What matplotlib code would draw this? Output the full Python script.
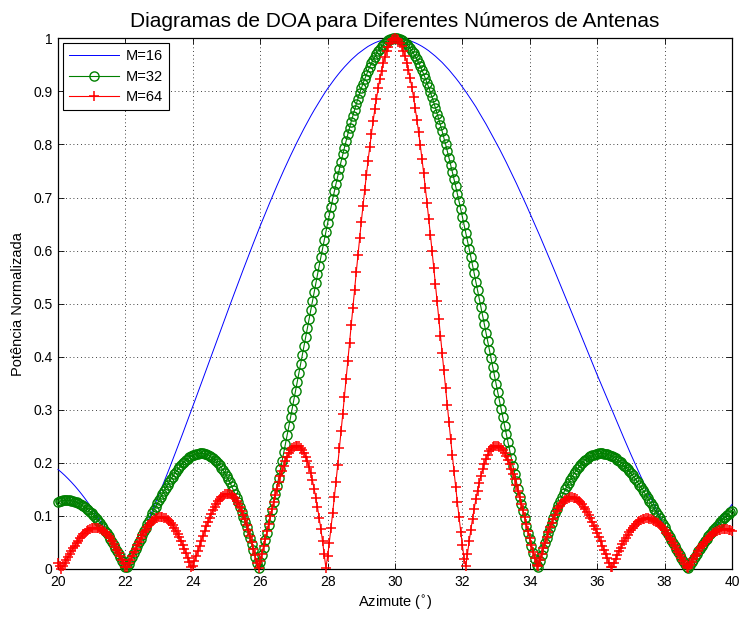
import numpy as np
import matplotlib
matplotlib.use("Agg")
import matplotlib.pyplot as plt

plt.rcParams['font.family'] = ['Liberation Sans', 'DejaVu Sans']

# Azimuth grids (degrees)
theta16 = np.linspace(20, 40, 201)   # 0.1 deg step
theta_f = np.linspace(20, 40, 401)   # 0.05 deg step

series_labels = ['M=16', 'M=32', 'M=64']

m16 = [
    0.1876, 0.1822, 0.1764, 0.1701, 0.1635, 0.1565, 0.1490, 0.1411, 0.1328, 0.1240,
    0.1150, 0.1055, 0.0956, 0.0854, 0.0747, 0.0637, 0.0524, 0.0405, 0.0285, 0.0159,
    0.0031, 0.0099, 0.0233, 0.0371, 0.0510, 0.0653, 0.0799, 0.0948, 0.1100, 0.1253,
    0.1409, 0.1567, 0.1726, 0.1888, 0.2051, 0.2218, 0.2384, 0.2552, 0.2722, 0.2893,
    0.3065, 0.3237, 0.3408, 0.3582, 0.3756, 0.3930, 0.4104, 0.4277, 0.4451, 0.4625,
    0.4798, 0.4970, 0.5141, 0.5311, 0.5479, 0.5648, 0.5814, 0.5979, 0.6143, 0.6305,
    0.6465, 0.6621, 0.6776, 0.6928, 0.7079, 0.7227, 0.7371, 0.7514, 0.7653, 0.7789,
    0.7922, 0.8052, 0.8178, 0.8300, 0.8418, 0.8534, 0.8645, 0.8751, 0.8854, 0.8956,
    0.9052, 0.9141, 0.9227, 0.9309, 0.9387, 0.9460, 0.9528, 0.9594, 0.9651, 0.9709,
    0.9757, 0.9803, 0.9847, 0.9882, 0.9914, 0.9940, 0.9961, 0.9978, 0.9990, 0.9998,
    1.0000, 0.9998, 0.9990, 0.9979, 0.9962, 0.9941, 0.9915, 0.9884, 0.9849, 0.9809,
    0.9765, 0.9713, 0.9662, 0.9604, 0.9544, 0.9476, 0.9407, 0.9331, 0.9253, 0.9171,
    0.9084, 0.8995, 0.8901, 0.8805, 0.8708, 0.8598, 0.8493, 0.8384, 0.8268, 0.8150,
    0.8036, 0.7916, 0.7791, 0.7665, 0.7534, 0.7402, 0.7269, 0.7131, 0.6993, 0.6852,
    0.6708, 0.6565, 0.6420, 0.6274, 0.6125, 0.5975, 0.5826, 0.5673, 0.5519, 0.5366,
    0.5211, 0.5058, 0.4904, 0.4748, 0.4593, 0.4437, 0.4281, 0.4125, 0.3971, 0.3814,
    0.3658, 0.3507, 0.3353, 0.3201, 0.3050, 0.2899, 0.2749, 0.2600, 0.2453, 0.2305,
    0.2159, 0.2017, 0.1875, 0.1736, 0.1598, 0.1461, 0.1327, 0.1193, 0.1062, 0.0932,
    0.0804, 0.0681, 0.0559, 0.0439, 0.0322, 0.0206, 0.0092, 0.0018, 0.0127, 0.0232,
    0.0336, 0.0435, 0.0532, 0.0627, 0.0719, 0.0809, 0.0895, 0.0979, 0.1060, 0.1139,
    0.1215,
]

m32 = [
    0.1267, 0.1278, 0.1285, 0.1291, 0.1295, 0.1296, 0.1295, 0.1293, 0.1287, 0.1280, 0.1270, 0.1259, 0.1245, 0.1228, 0.1210, 0.1189, 0.1166, 0.1140, 0.1113, 0.1083,
    0.1051, 0.1017, 0.0981, 0.0943, 0.0903, 0.0861, 0.0817, 0.0771, 0.0723, 0.0674, 0.0623, 0.0570, 0.0516, 0.0460, 0.0402, 0.0343, 0.0283, 0.0222, 0.0159, 0.0096,
    0.0031, 0.0034, 0.0099, 0.0165, 0.0232, 0.0300, 0.0368, 0.0436, 0.0505, 0.0573, 0.0641, 0.0710, 0.0778, 0.0845, 0.0912, 0.0979, 0.1046, 0.1111, 0.1175, 0.1238,
    0.1300, 0.1361, 0.1420, 0.1478, 0.1534, 0.1589, 0.1642, 0.1693, 0.1742, 0.1789, 0.1834, 0.1877, 0.1917, 0.1954, 0.1989, 0.2022, 0.2051, 0.2078, 0.2102, 0.2122,
    0.2140, 0.2155, 0.2166, 0.2174, 0.2178, 0.2180, 0.2177, 0.2171, 0.2162, 0.2149, 0.2132, 0.2111, 0.2087, 0.2059, 0.2027, 0.1991, 0.1951, 0.1908, 0.1860, 0.1808,
    0.1753, 0.1694, 0.1630, 0.1564, 0.1494, 0.1419, 0.1340, 0.1258, 0.1172, 0.1082, 0.0989, 0.0892, 0.0791, 0.0686, 0.0578, 0.0467, 0.0352, 0.0233, 0.0111, 0.0014,
    0.0141, 0.0271, 0.0404, 0.0540, 0.0678, 0.0820, 0.0965, 0.1111, 0.1260, 0.1411, 0.1564, 0.1719, 0.1876, 0.2035, 0.2196, 0.2359, 0.2524, 0.2688, 0.2855, 0.3022,
    0.3191, 0.3358, 0.3526, 0.3695, 0.3865, 0.4034, 0.4203, 0.4373, 0.4543, 0.4712, 0.4881, 0.5050, 0.5217, 0.5384, 0.5550, 0.5714, 0.5876, 0.6038, 0.6199, 0.6357,
    0.6514, 0.6668, 0.6819, 0.6968, 0.7116, 0.7260, 0.7402, 0.7541, 0.7678, 0.7812, 0.7941, 0.8068, 0.8192, 0.8313, 0.8431, 0.8543, 0.8656, 0.8761, 0.8862, 0.8963,
    0.9057, 0.9148, 0.9230, 0.9312, 0.9390, 0.9462, 0.9532, 0.9597, 0.9655, 0.9709, 0.9759, 0.9804, 0.9846, 0.9881, 0.9913, 0.9939, 0.9961, 0.9978, 0.9990, 0.9998,
    1.0000, 0.9998, 0.9991, 0.9979, 0.9962, 0.9940, 0.9915, 0.9884, 0.9848, 0.9808, 0.9765, 0.9714, 0.9661, 0.9602, 0.9541, 0.9473, 0.9401, 0.9326, 0.9246, 0.9163,
    0.9076, 0.8984, 0.8890, 0.8790, 0.8688, 0.8583, 0.8472, 0.8360, 0.8245, 0.8127, 0.8005, 0.7880, 0.7750, 0.7620, 0.7485, 0.7351, 0.7212, 0.7072, 0.6928, 0.6783,
    0.6635, 0.6488, 0.6338, 0.6188, 0.6034, 0.5881, 0.5724, 0.5569, 0.5411, 0.5253, 0.5093, 0.4935, 0.4774, 0.4614, 0.4452, 0.4293, 0.4128, 0.3970, 0.3806, 0.3647,
    0.3484, 0.3328, 0.3167, 0.3014, 0.2857, 0.2703, 0.2546, 0.2396, 0.2243, 0.2094, 0.1943, 0.1798, 0.1651, 0.1508, 0.1364, 0.1226, 0.1087, 0.0952, 0.0817, 0.0686,
    0.0557, 0.0431, 0.0308, 0.0188, 0.0069, 0.0046, 0.0159, 0.0269, 0.0377, 0.0482, 0.0583, 0.0681, 0.0776, 0.0870, 0.0959, 0.1046, 0.1129, 0.1210, 0.1288, 0.1361,
    0.1432, 0.1499, 0.1563, 0.1623, 0.1680, 0.1734, 0.1785, 0.1833, 0.1878, 0.1920, 0.1958, 0.1993, 0.2026, 0.2054, 0.2080, 0.2103, 0.2123, 0.2139, 0.2154, 0.2164,
    0.2172, 0.2177, 0.2179, 0.2179, 0.2175, 0.2170, 0.2162, 0.2151, 0.2137, 0.2121, 0.2103, 0.2083, 0.2060, 0.2035, 0.2008, 0.1979, 0.1947, 0.1914, 0.1879, 0.1842,
    0.1803, 0.1763, 0.1722, 0.1678, 0.1634, 0.1588, 0.1541, 0.1493, 0.1443, 0.1393, 0.1340, 0.1288, 0.1235, 0.1180, 0.1125, 0.1069, 0.1013, 0.0956, 0.0898, 0.0841,
    0.0782, 0.0725, 0.0667, 0.0609, 0.0551, 0.0493, 0.0435, 0.0378, 0.0320, 0.0263, 0.0205, 0.0149, 0.0092, 0.0037, 0.0018, 0.0072, 0.0126, 0.0179, 0.0231, 0.0283,
    0.0334, 0.0383, 0.0431, 0.0478, 0.0524, 0.0569, 0.0613, 0.0656, 0.0697, 0.0738, 0.0778, 0.0815, 0.0852, 0.0887, 0.0921, 0.0954, 0.0985, 0.1015, 0.1043, 0.1070,
    0.1095,
]

m64 = [
    0.0120, 0.0063, 0.0007, 0.0051, 0.0109, 0.0167, 0.0225, 0.0281, 0.0336, 0.0389, 0.0441, 0.0491, 0.0536, 0.0579, 0.0619, 0.0654, 0.0686, 0.0714, 0.0737, 0.0754,
    0.0768, 0.0776, 0.0779, 0.0777, 0.0770, 0.0758, 0.0739, 0.0716, 0.0688, 0.0655, 0.0618, 0.0576, 0.0529, 0.0477, 0.0423, 0.0365, 0.0304, 0.0239, 0.0172, 0.0105,
    0.0034, 0.0036, 0.0106, 0.0177, 0.0246, 0.0316, 0.0384, 0.0450, 0.0515, 0.0577, 0.0636, 0.0691, 0.0743, 0.0791, 0.0834, 0.0872, 0.0905, 0.0932, 0.0953, 0.0969,
    0.0979, 0.0982, 0.0979, 0.0969, 0.0953, 0.0931, 0.0901, 0.0867, 0.0825, 0.0777, 0.0723, 0.0664, 0.0600, 0.0531, 0.0458, 0.0380, 0.0299, 0.0213, 0.0125, 0.0035,
    0.0058, 0.0153, 0.0249, 0.0344, 0.0440, 0.0534, 0.0625, 0.0715, 0.0802, 0.0886, 0.0965, 0.1038, 0.1109, 0.1172, 0.1229, 0.1278, 0.1321, 0.1356, 0.1384, 0.1404,
    0.1414, 0.1415, 0.1408, 0.1392, 0.1365, 0.1331, 0.1287, 0.1233, 0.1172, 0.1100, 0.1021, 0.0933, 0.0838, 0.0735, 0.0624, 0.0507, 0.0384, 0.0255, 0.0122, 0.0015,
    0.0151, 0.0289, 0.0429, 0.0570, 0.0712, 0.0853, 0.0993, 0.1129, 0.1263, 0.1392, 0.1516, 0.1636, 0.1747, 0.1852, 0.1948, 0.2035, 0.2113, 0.2179, 0.2234, 0.2277,
    0.2307, 0.2323, 0.2325, 0.2313, 0.2288, 0.2247, 0.2190, 0.2118, 0.2030, 0.1925, 0.1805, 0.1668, 0.1515, 0.1347, 0.1163, 0.0964, 0.0750, 0.0521, 0.0276, 0.0019,
    0.0236, 0.0497, 0.0770, 0.1054, 0.1348, 0.1648, 0.1956, 0.2273, 0.2595, 0.2922, 0.3250, 0.3584, 0.3918, 0.4255, 0.4593, 0.4927, 0.5257, 0.5588, 0.5913, 0.6232,
    0.6542, 0.6844, 0.7136, 0.7420, 0.7692, 0.7954, 0.8202, 0.8438, 0.8661, 0.8865, 0.9057, 0.9232, 0.9389, 0.9530, 0.9654, 0.9758, 0.9845, 0.9913, 0.9961, 0.9990,
    1.0000, 0.9991, 0.9962, 0.9915, 0.9848, 0.9763, 0.9661, 0.9540, 0.9402, 0.9246, 0.9076, 0.8890, 0.8681, 0.8467, 0.8234, 0.7991, 0.7734, 0.7465, 0.7186, 0.6898,
    0.6603, 0.6301, 0.5993, 0.5679, 0.5361, 0.5041, 0.4719, 0.4393, 0.4067, 0.3741, 0.3415, 0.3093, 0.2774, 0.2458, 0.2148, 0.1846, 0.1550, 0.1260, 0.0979, 0.0706,
    0.0443, 0.0194, 0.0048, 0.0291, 0.0522, 0.0742, 0.0948, 0.1138, 0.1315, 0.1479, 0.1626, 0.1761, 0.1880, 0.1986, 0.2076, 0.2154, 0.2215, 0.2264, 0.2296, 0.2319,
    0.2324, 0.2321, 0.2302, 0.2275, 0.2233, 0.2184, 0.2122, 0.2053, 0.1974, 0.1889, 0.1792, 0.1693, 0.1585, 0.1472, 0.1352, 0.1233, 0.1106, 0.0980, 0.0849, 0.0719,
    0.0587, 0.0458, 0.0328, 0.0200, 0.0074, 0.0048, 0.0167, 0.0281, 0.0393, 0.0499, 0.0601, 0.0696, 0.0786, 0.0872, 0.0950, 0.1022, 0.1087, 0.1145, 0.1196, 0.1240,
    0.1277, 0.1306, 0.1327, 0.1342, 0.1350, 0.1350, 0.1344, 0.1331, 0.1313, 0.1286, 0.1255, 0.1218, 0.1175, 0.1127, 0.1073, 0.1015, 0.0954, 0.0888, 0.0819, 0.0748,
    0.0673, 0.0597, 0.0521, 0.0441, 0.0360, 0.0279, 0.0200, 0.0119, 0.0039, 0.0040, 0.0116, 0.0191, 0.0264, 0.0335, 0.0402, 0.0468, 0.0529, 0.0588, 0.0643, 0.0694,
    0.0739, 0.0781, 0.0818, 0.0852, 0.0881, 0.0905, 0.0924, 0.0938, 0.0948, 0.0954, 0.0954, 0.0950, 0.0941, 0.0929, 0.0911, 0.0890, 0.0864, 0.0835, 0.0802, 0.0765,
    0.0726, 0.0683, 0.0639, 0.0592, 0.0542, 0.0490, 0.0437, 0.0383, 0.0327, 0.0269, 0.0212, 0.0154, 0.0096, 0.0038, 0.0019, 0.0076, 0.0132, 0.0187, 0.0240, 0.0292,
    0.0342, 0.0390, 0.0434, 0.0477, 0.0517, 0.0553, 0.0588, 0.0618, 0.0647, 0.0672, 0.0693, 0.0712, 0.0726, 0.0737, 0.0746, 0.0750, 0.0751, 0.0748, 0.0742, 0.0733,
    0.0720,
]

x_ticks = [20, 22, 24, 26, 28, 30, 32, 34, 36, 38, 40]
y_ticks = [0, 0.1, 0.2, 0.3, 0.4, 0.5, 0.6, 0.7, 0.8, 0.9, 1]
y_tick_labels = ['0', '0.1', '0.2', '0.3', '0.4', '0.5', '0.6', '0.7', '0.8', '0.9', '1']

fig = plt.figure(figsize=(7.4, 6.17), dpi=100)
ax = fig.add_axes([58 / 740, 1 - 569 / 617, (732 - 58) / 740, (569 - 38.3) / 617])

ax.plot(theta16, m16, color=(0, 0, 1), lw=0.7, label=series_labels[0], clip_on=False, zorder=3)
ax.plot(theta_f, m32, color=(0, 0.5, 0), lw=0.8, marker='o', ms=6.6, mfc='none',
        mew=1.0, label=series_labels[1], clip_on=False, zorder=4)
ax.plot(theta_f, m64, color=(1, 0, 0), lw=0.8, marker='+', ms=7.5, mew=1.1,
        label=series_labels[2], clip_on=False, zorder=5)

ax.set_xlim(20, 40)
ax.set_ylim(0, 1)
ax.set_xticks(x_ticks)
ax.set_yticks(y_ticks)
ax.set_yticklabels(y_tick_labels)
ax.tick_params(direction='in', top=True, right=True, length=4, width=0.6,
               labelsize=10, pad=4)
ax.grid(True, linestyle=(0, (1, 3.5)), color='black', lw=0.6)
for sp in ax.spines.values():
    sp.set_linewidth(0.9)

ax.set_title('Diagramas de DOA para Diferentes Números de Antenas', fontsize=15, pad=8)
ax.set_xlabel(r'Azimute ($^{\circ}$)', fontsize=10.5, labelpad=4)
ax.set_ylabel('Potência Normalizada', fontsize=10.5, labelpad=6)

leg = ax.legend(loc='upper left', fontsize=10.5, fancybox=False, edgecolor='black',
                framealpha=1, handlelength=3.4, borderaxespad=0.35, borderpad=0.4,
                labelspacing=0.45, handletextpad=0.5)
leg.get_frame().set_linewidth(0.8)

fig.savefig('out.png', dpi=100)
